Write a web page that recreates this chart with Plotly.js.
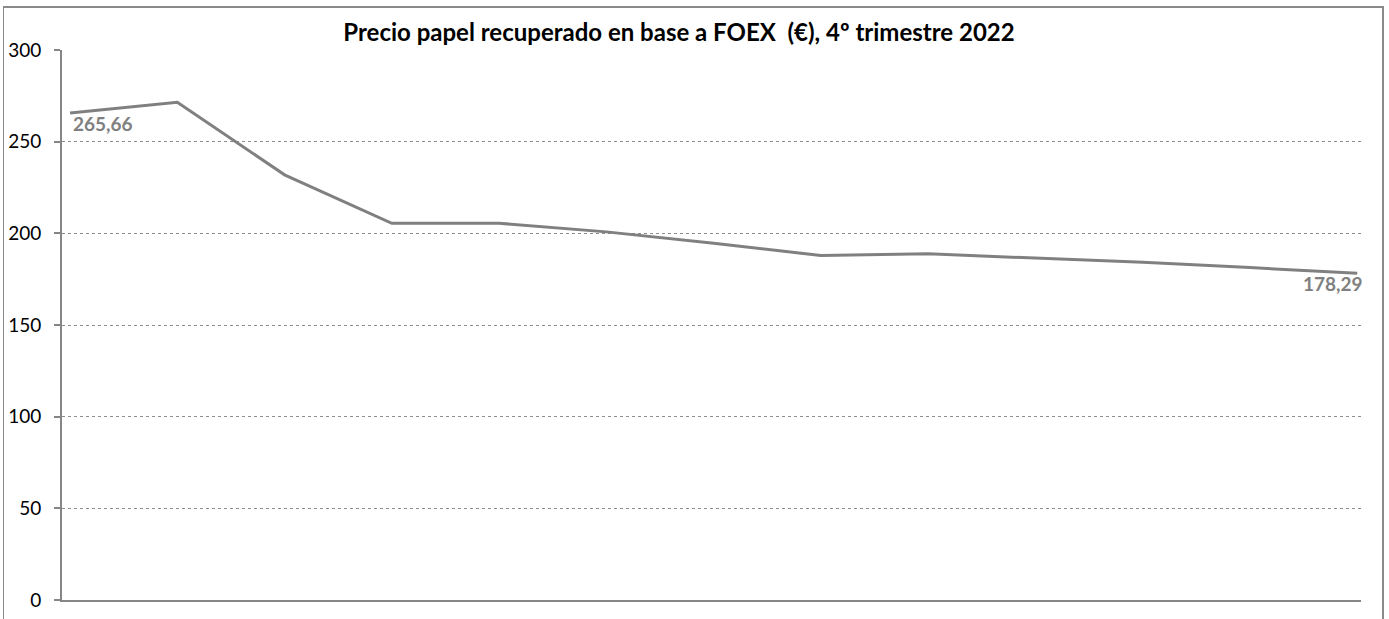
<!DOCTYPE html>
<html>
<head>
<meta charset="utf-8">
<script src="https://cdn.plot.ly/plotly-3.0.1.min.js"></script>
<style>
html,body{margin:0;padding:0;background:#fff;overflow:hidden;}
#wrap{position:relative;width:1389px;height:619px;}
#chart{position:absolute;left:0;top:0;width:1389px;height:619px;}
#frame{position:absolute;left:3px;top:6px;width:1378px;height:700px;border:2px solid #8a8a8a;border-left-width:1px;pointer-events:none;}
</style>
</head>
<body>
<div id="wrap"><div id="chart"></div><div id="frame"></div></div>
<script>
// Data
const categories = ["1","2","3","4","5","6","7","8","9","10","11","12","13"];
const prices = [265.66, 271.5, 231.9, 205.5, 205.5, 200.8, 194.6, 187.9, 188.8, 186.4, 184.2, 181.3, 178.29];
const yTicks = [0, 50, 100, 150, 200, 250, 300];
const titleText = "Precio papel recuperado en base a FOEX  (€), 4º trimestre 2022";

const xs = categories.map((c, i) => i);
const fmt = v => v.toFixed(2).replace('.', ',');
const last = prices.length - 1;

const trace = {
  x: xs,
  y: prices,
  type: 'scatter',
  mode: 'lines',
  line: {color: '#808080', width: 3},
  hoverinfo: 'skip',
  showlegend: false
};

const labelFont = {family: 'Lato, "Open Sans", sans-serif', size: 19, color: '#808080', weight: 'bold'};
const annotations = [
  {x: xs[0], y: prices[0], text: '<b>' + fmt(prices[0]) + '</b>', showarrow: false,
   xanchor: 'left', yanchor: 'top', xshift: 1, yshift: 3, font: labelFont},
  {x: xs[last], y: prices[last], text: '<b>' + fmt(prices[last]) + '</b>', showarrow: false,
   xanchor: 'right', yanchor: 'top', xshift: 8, yshift: 3, font: labelFont}
];

const layout = {
  width: 1389,
  height: 619,
  margin: {l: 62, r: 28, t: 50, b: 19},
  paper_bgcolor: '#ffffff',
  plot_bgcolor: '#ffffff',
  font: {family: 'Lato, "Open Sans", sans-serif', size: 19, color: '#000'},
  title: {
    text: '<b>' + titleText + '</b>',
    font: {family: 'Lato, "Open Sans", sans-serif', size: 24, color: '#000'},
    x: 679 / 1389, xref: 'container', xanchor: 'center',
    y: 1 - 33 / 619, yref: 'container', yanchor: 'middle'
  },
  annotations: annotations,
  xaxis: {
    range: [-0.075, 12.035],
    showticklabels: false,
    showgrid: false,
    zeroline: false,
    showline: true,
    linecolor: '#868686',
    linewidth: 2,
    ticks: '',
    fixedrange: true
  },
  yaxis: {
    range: [0, 300],
    tickvals: yTicks,
    ticktext: yTicks.map(String),
    showgrid: true,
    gridcolor: '#8c8c8c',
    griddash: 'dot',
    gridwidth: 1,
    zeroline: false,
    showline: true,
    linecolor: '#868686',
    linewidth: 2,
    ticks: 'outside',
    ticklen: 6,
    tickwidth: 2,
    tickcolor: '#868686',
    ticklabelstandoff: 9,
    tickfont: {family: 'Lato, "Open Sans", sans-serif', size: 19, color: '#000'},
    fixedrange: true
  }
};

Plotly.newPlot('chart', [trace], layout, {displayModeBar: false, staticPlot: true});
</script>
</body>
</html>
